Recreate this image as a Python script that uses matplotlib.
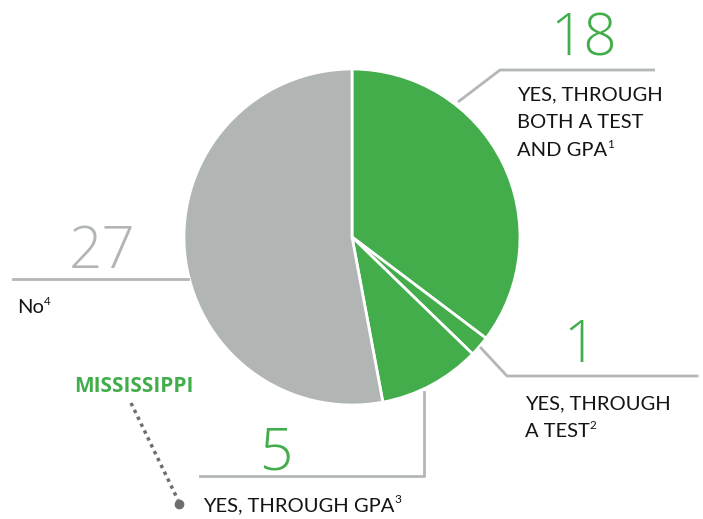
import matplotlib
matplotlib.use("Agg")
import matplotlib.pyplot as plt

# answer counts, clockwise from 12 o'clock
counts = [18, 1, 5, 27]
slice_colors = ["#43ad4b", "#43ad4b", "#43ad4b", "#b1b6b5"]
number_colors = ["#43ad4b", "#43ad4b", "#43ad4b", "#b1b6b5"]
labels = [
    ["YES, THROUGH", "BOTH A TEST", "AND GPA"],
    ["YES, THROUGH", "A TEST"],
    ["YES, THROUGH GPA"],
    ["No"],
]
notes = ["1", "2", "3", "4"]
highlight = "MISSISSIPPI"

W, H = 703, 519
fig = plt.figure(figsize=(W / 100, H / 100), dpi=100)
ax = fig.add_axes([0, 0, 1, 1])

# pie (axes y is flipped, so go counterclockwise to look clockwise)
ax.pie(counts, colors=slice_colors, startangle=-90, counterclock=True,
       center=(352, 237), radius=168, frame=True,
       wedgeprops=dict(edgecolor="white", linewidth=2))
ax.set_xlim(0, W)
ax.set_ylim(H, 0)
ax.set_aspect("equal")
ax.axis("off")

line_c = "#b3b7b7"
lw = 2
# leader lines
ax.plot([458, 500, 655], [102, 70, 70], color=line_c, lw=lw, solid_capstyle="butt")
ax.plot([13, 188], [279, 279], color=line_c, lw=lw)
ax.plot([481, 507, 697], [348, 376, 376], color=line_c, lw=lw)
ax.plot([424, 424, 200], [392, 476, 476], color=line_c, lw=lw)

# big numbers
num_font = dict(family="Open Sans", fontweight="light", fontsize=42, ha="center", va="baseline")
num_pos = [(584, 55), (580, 362), (277, 470), (102, 268)]
for n, (x, y), c in zip(counts, num_pos, number_colors):
    ax.text(x, y, str(n), color=c, **num_font)

# labels with superscript notes
lab_font = dict(family="Lato", fontsize=14.5, color="#141414", va="baseline", ha="left")
lab_pos = [(517, 100), (525, 409), (203, 511), (17, 313)]
fig.canvas.draw()
r = fig.canvas.get_renderer()
inv = ax.transData.inverted()
for lines, note, (x, y) in zip(labels, notes, lab_pos):
    t = None
    for i, s in enumerate(lines):
        t = ax.text(x, y + i * 28, s, **lab_font)
    bb = t.get_window_extent(renderer=r)
    x1, _ = inv.transform((bb.x1, bb.y0))
    ax.text(x1, y + (len(lines) - 1) * 28 - 8, note, family="Lato",
            fontsize=8.5, color="#141414", va="baseline", ha="left")

# Mississippi callout
ax.text(74, 392, highlight, family="Open Sans", fontweight="bold", fontsize=15,
        color="#43ad4b", va="baseline", ha="left")
ax.plot([131, 178], [403, 500], color="#6d6e70", lw=2.5, ls=(0, (1, 1.2)))
ax.plot([179], [504], "o", color="#6d6e70", ms=6)

fig.savefig("out.png", dpi=100)
